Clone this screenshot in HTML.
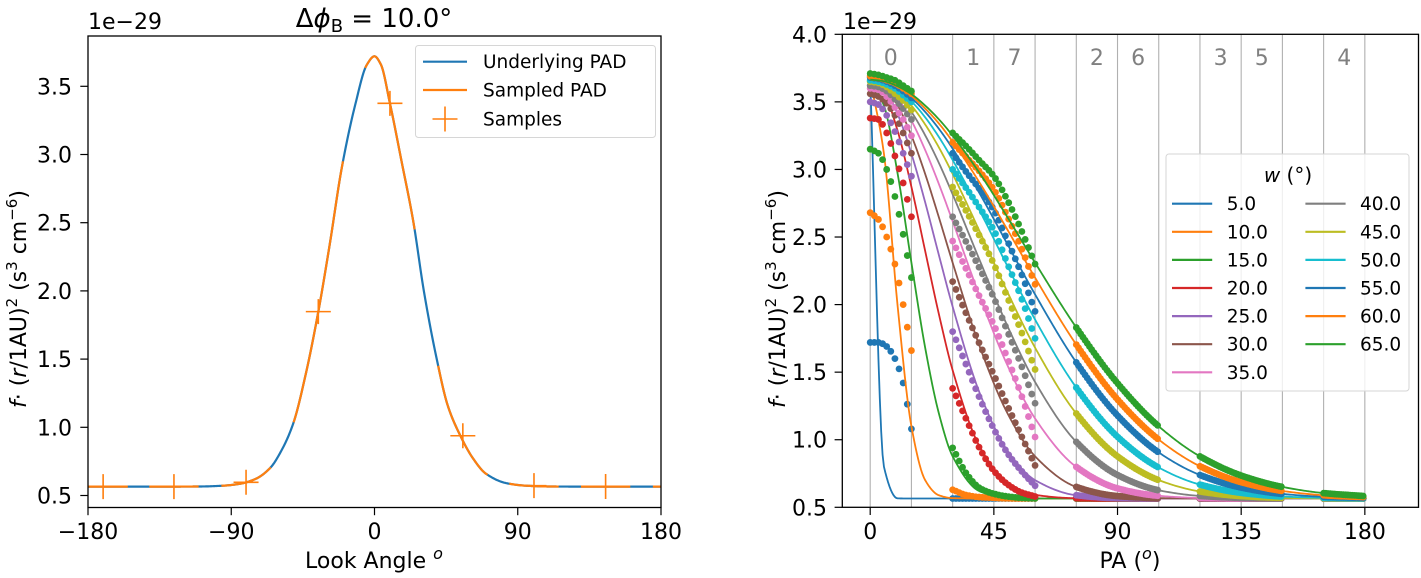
<!DOCTYPE html>
<html><head><meta charset="utf-8"><style>
html,body{margin:0;padding:0;background:#fff;}
svg{display:block;font-family:"DejaVu Sans","Liberation Sans",sans-serif;}
</style></head><body>
<svg id="fig" width="1421" height="578" viewBox="0 0 1421 578" xmlns="http://www.w3.org/2000/svg">
<rect width="1421" height="578" fill="#fff"/>
<g id="left"></g>
<g id="right"></g>
</svg>
<script>
// ---------- LEFT CHART DATA ----------
const padX = [-180,-140,-110,-95,-85,-75,-65.7,-58,-51,-43,-35.3,-28,-20.6,-12,-4.9,0,4,9.7,17,24.4,31,39,46,53.7,62,70,83,95,110,140,180];
const padY = [0.565,0.565,0.566,0.572,0.585,0.62,0.70,0.84,1.03,1.40,1.848,2.35,2.90,3.37,3.656,3.72,3.66,3.375,2.95,2.507,2.0,1.506,1.16,0.944,0.77,0.66,0.59,0.572,0.566,0.565,0.565];
const sampleX = [-170.5,-126,-80.7,-35.3,9.7,55.5,100.2,145.2];
const sampleY = [0.565,0.565,0.597,1.848,3.375,0.938,0.572,0.566];
const leftXTicks = [-180,-90,0,90,180];
const leftYTicks = [0.5,1.0,1.5,2.0,2.5,3.0,3.5];

// ---------- RIGHT CHART DATA ----------
const widths = [5,10,15,20,25,30,35,40,45,50,55,60,65];
const paGrid = [0,5,10,15,20,25,30,40,50,60,75,90,105,120,135,150,165,180];
const lineW5  = [3.665,0.80,0.566,0.565,0.565,0.565,0.565,0.565,0.565,0.565,0.565,0.565,0.565,0.565,0.565,0.565,0.565,0.565];
const lineW10 = [3.665,3.116,1.985,1.099,0.701,0.589,0.568,0.565,0.565,0.565,0.565,0.565,0.565,0.565,0.565,0.565,0.565,0.565];
const lineW15 = [3.665,3.473,2.967,2.310,1.681,1.194,0.877,0.617,0.570,0.565,0.565,0.565,0.565,0.565,0.565,0.565,0.565,0.565];
const lineW20 = [3.665,3.566,3.284,2.871,2.397,1.929,1.514,0.943,0.681,0.592,0.567,0.565,0.565,0.565,0.565,0.565,0.565,0.565];
const lineW25 = [3.665,3.598,3.408,3.116,2.757,2.366,1.985,1.337,0.918,0.701,0.589,0.568,0.565,0.565,0.565,0.565,0.565,0.565];
const lineW30 = [3.665,3.615,3.473,3.250,2.967,2.645,2.310,1.681,1.194,0.877,0.651,0.583,0.568,0.565,0.565,0.565,0.565,0.565];
const lineW35 = [3.665,3.629,3.526,3.361,3.144,2.892,2.617,2.053,1.548,1.157,0.799,0.640,0.585,0.569,0.565,0.565,0.565,0.565];
const lineW40 = [3.665,3.637,3.557,3.426,3.253,3.048,2.816,2.320,1.839,1.427,0.984,0.739,0.626,0.584,0.570,0.565,0.565,0.565];
const lineW45 = [3.665,3.643,3.578,3.473,3.333,3.163,2.967,2.534,2.090,1.681,1.194,0.877,0.701,0.617,0.583,0.570,0.566,0.565];
const lineW50 = [3.665,3.646,3.593,3.504,3.386,3.240,3.070,2.689,2.282,1.889,1.386,1.022,0.794,0.668,0.607,0.580,0.570,0.566];
const lineW55 = [3.665,3.649,3.603,3.528,3.426,3.301,3.154,2.816,2.445,2.075,1.572,1.179,0.906,0.739,0.646,0.599,0.578,0.570];
const lineW60 = [3.665,3.651,3.609,3.544,3.451,3.340,3.206,2.896,2.552,2.199,1.704,1.298,1.001,0.804,0.686,0.621,0.589,0.575];
const lineW65 = [3.665,3.653,3.615,3.557,3.473,3.371,3.250,2.967,2.645,2.310,1.830,1.418,1.099,0.877,0.735,0.651,0.605,0.583];
const lineSeries = [lineW5,lineW10,lineW15,lineW20,lineW25,lineW30,lineW35,lineW40,lineW45,lineW50,lineW55,lineW60,lineW65];
const dotPA0 = [0,3,6,9,12,15];
const dots0 = [
 [1.72,1.72,1.69,1.6,1.42,1.08],[2.68,2.63,2.5,2.3,2.0,1.66],[3.15,3.12,3.0,2.8,2.52,2.2],
 [3.38,3.37,3.27,3.1,2.9,2.65],[3.5,3.48,3.4,3.28,3.12,2.95],[3.56,3.54,3.49,3.4,3.27,3.12],
 [3.6,3.59,3.54,3.46,3.37,3.25],[3.62,3.61,3.58,3.52,3.45,3.37],[3.65,3.64,3.61,3.56,3.51,3.44],
 [3.66,3.65,3.63,3.6,3.55,3.5],[3.68,3.67,3.65,3.62,3.58,3.53],[3.69,3.68,3.66,3.64,3.6,3.56],
 [3.71,3.7,3.68,3.66,3.62,3.58]];
const dotPA1 = [30,35,40,45,50,55,60];
const dots1 = [
 [0.565,0.565,0.565,0.565,0.565,0.565,0.565],[0.63,0.59,0.575,0.57,0.566,0.565,0.565],
 [0.94,0.75,0.64,0.6,0.58,0.57,0.566],[1.38,1.15,0.93,0.77,0.67,0.61,0.58],
 [1.8,1.55,1.3,1.08,0.9,0.77,0.66],[2.17,1.93,1.7,1.48,1.25,1.03,0.81],
 [2.47,2.26,2.05,1.85,1.6,1.33,1.02],[2.65,2.46,2.26,2.05,1.8,1.55,1.27],
 [2.87,2.69,2.5,2.3,2.05,1.8,1.52],[3.0,2.86,2.71,2.55,2.3,2.05,1.75],
 [3.12,2.98,2.85,2.7,2.47,2.23,1.95],[3.2,3.09,2.98,2.85,2.65,2.42,2.15],
 [3.27,3.17,3.06,2.95,2.77,2.55,2.3]];
const binEdges = [0,15,30,45,60,75,90,105,120,135,150,165,180];
const binLabels = ["0","","1","7","","2","6","","3","5","","4"];
const rightXTicks = [0,45,90,135,180];
const rightYTicks = [0.5,1.0,1.5,2.0,2.5,3.0,3.5,4.0];
const colors = ["#1f77b4","#ff7f0e","#2ca02c","#d62728","#9467bd","#8c564b","#e377c2","#7f7f7f","#bcbd22","#17becf","#1f77b4","#ff7f0e","#2ca02c"];

const NS="http://www.w3.org/2000/svg";
function mk(parent,tag,attrs,text){const e=document.createElementNS(NS,tag);for(const k in attrs)e.setAttribute(k,attrs[k]);if(text!==undefined)e.textContent=text;parent.appendChild(e);return e;}
function mono(xs,ys){
  const n=xs.length,d=[],m=new Array(n);
  for(let i=0;i<n-1;i++)d.push((ys[i+1]-ys[i])/(xs[i+1]-xs[i]));
  m[0]=d[0];m[n-1]=d[n-2];
  for(let i=1;i<n-1;i++){ if(d[i-1]*d[i]<=0)m[i]=0; else {const w1=2*(xs[i+1]-xs[i])+(xs[i]-xs[i-1]),w2=(xs[i+1]-xs[i])+2*(xs[i]-xs[i-1]);m[i]=(w1+w2)/(w1/d[i-1]+w2/d[i]);} }
  return function(x){
    if(x<=xs[0])return ys[0]; if(x>=xs[n-1])return ys[n-1];
    let i=0;while(x>xs[i+1])i++;
    const h=xs[i+1]-xs[i],t=(x-xs[i])/h,t2=t*t,t3=t2*t;
    return (2*t3-3*t2+1)*ys[i]+(t3-2*t2+t)*h*m[i]+(-2*t3+3*t2)*ys[i+1]+(t3-t2)*h*m[i+1];
  };
}
const fmt=v=>(v<0?"\u2212":"")+Math.abs(v);

// ================= LEFT =================
(function(){
  const g=document.getElementById('left');
  const X0=88,X1=661,Y0=36,Y1=507.5;
  const xs=d=>X0+(d+180)*(X1-X0)/360;
  const ys=v=>495.5-(v-0.5)*136.4;
  const f=mono(padX,padY);
  function path(a,b){let s="";for(let d=a;d<=b+1e-9;d+=0.5){s+=(s?"L":"M")+xs(d).toFixed(2)+","+ys(f(d)).toFixed(2);}return s;}
  const cp=mk(g,'clipPath',{id:'clipL'});mk(cp,'rect',{x:X0,y:Y0,width:X1-X0,height:Y1-Y0});
  const under=mk(g,'path',{d:path(-180,180),fill:'none',stroke:'#1f77b4','stroke-width':2.2,'clip-path':'url(#clipL)'});
  
  
  const hw=15.5;
  const segs=sampleX.concat([sampleX[sampleX.length-1]+45.2]);
  segs.forEach((c,i)=>{
    const a=Math.max(-180,c-hw),b=Math.min(180,c+hw);
    if(a>=b)return;
    const p=mk(g,'path',{d:path(a,b),fill:'none',stroke:'#ff7f0e','stroke-width':2.2,'clip-path':'url(#clipL)'});
    
    
  });
  // first segment wraps at -180
  sampleX.forEach((sx,i)=>{
    const cx=xs(sx),cy=ys(sampleY[i]);
    const m=mk(g,'path',{d:`M${cx-12.5},${cy}H${cx+12.5}M${cx},${cy-12.5}V${cy+12.5}`,stroke:'#ff7f0e','stroke-width':1.6,fill:'none'});
    
    
  });
  const fr=mk(g,'rect',{x:X0,y:Y0,width:X1-X0,height:Y1-Y0,fill:'none',stroke:'#000','stroke-width':1.3});
  
  
  leftXTicks.forEach(t=>{
    const x=xs(t);mk(g,'line',{x1:x,x2:x,y1:Y1,y2:Y1+7.7,stroke:'#000','stroke-width':1.2});
    const tx=mk(g,'text',{x:x,y:539,'text-anchor':'middle','font-size':22},fmt(t));
    
    
  });
  leftYTicks.forEach(t=>{
    const y=ys(t);mk(g,'line',{x1:X0-7.7,x2:X0,y1:y,y2:y,stroke:'#000','stroke-width':1.2});
    const tx=mk(g,'text',{x:72,y:y+8,'text-anchor':'end','font-size':22},t.toFixed(1));
    
    
  });
  // legend
  const lg=mk(g,'g',{});
  
  
  mk(lg,'rect',{x:415.5,y:45.5,width:240,height:92,rx:3,fill:'#fff','fill-opacity':0.8,stroke:'#d6d6d6','stroke-width':1});
  mk(lg,'line',{x1:423,x2:467,y1:61.7,y2:61.7,stroke:'#1f77b4','stroke-width':2.2});
  mk(lg,'line',{x1:423,x2:467,y1:90,y2:90,stroke:'#ff7f0e','stroke-width':2.2});
  mk(lg,'path',{d:'M432.5,119H457.5M445,106.5V131.5',stroke:'#ff7f0e','stroke-width':1.6});
  const l1=mk(lg,'text',{x:483,y:68,'font-size':18.5},'Underlying PAD');
  const l2=mk(lg,'text',{x:483,y:96.5,'font-size':18.5},'Sampled PAD');
  const l3=mk(lg,'text',{x:483,y:125.5,'font-size':18.5},'Samples');
  // texts
  const off=mk(g,'text',{x:88,y:29,'font-size':22},'1e\u221229');
  const ti=mk(g,'text',{x:374,y:27,'text-anchor':'middle','font-size':26});
  
  
  ti.innerHTML='\u0394<tspan font-style="italic">\u03d5</tspan><tspan font-size="18" dy="5">B</tspan><tspan dy="-5"> = 10.0\u00b0</tspan>';
  const xl=mk(g,'text',{x:374,y:568,'text-anchor':'middle','font-size':22});
  
  
  xl.innerHTML='Look Angle <tspan font-style="italic" font-size="16" dy="-9">o</tspan>';
  const yl=mk(g,'text',{x:0,y:0,'text-anchor':'middle','font-size':22,transform:'translate(26,299) rotate(-90)'});
  
  
  yl.innerHTML='<tspan font-style="italic">f</tspan>\u00b7 (<tspan font-style="italic">r</tspan>/1AU)<tspan font-size="15" dy="-9">2</tspan><tspan dy="9"> (s</tspan><tspan font-size="15" dy="-9">3</tspan><tspan dy="9"> cm</tspan><tspan font-size="15" dy="-9">\u22126</tspan><tspan dy="9">)</tspan>';
})();

// ================= RIGHT =================
(function(){
  const g=document.getElementById('right');
  const X0=842.3,X1=1418.5,Y0=34.3,Y1=507.3;
  const xs=p=>870.2+p*2.748;
  const ys=v=>507.3-(v-0.5)*135.14;
  const cp=mk(g,'clipPath',{id:'clipR'});mk(cp,'rect',{x:X0,y:Y0,width:X1-X0,height:Y1-Y0});
  binEdges.forEach(e=>{
    const l=mk(g,'line',{x1:xs(e),x2:xs(e),y1:Y0,y2:Y1,stroke:'#b0b0b0','stroke-width':1.1});
    
    
  });
  binLabels.forEach((lab,i)=>{
    if(!lab)return;
    const t=mk(g,'text',{x:xs((binEdges[i]+binEdges[i+1])/2),y:65,'text-anchor':'middle','font-size':22,fill:'#808080'},lab);
    
    
  });
  const plot=mk(g,'g',{'clip-path':'url(#clipR)'});
  lineSeries.forEach((arr,si)=>{
    const f=mono(paGrid,arr);const c=colors[si];
    let s="";for(let p=0;p<=180;p+=0.5){s+=(s?"L":"M")+xs(p).toFixed(2)+","+ys(f(p)).toFixed(2);}
    const ln=mk(plot,'path',{d:s,fill:'none',stroke:c,'stroke-width':1.8});
    
    
    const f0=mono(dotPA0,dots0[si]),f1=mono(dotPA1,dots1[si]);
    const pts=[];
    for(let p=0;p<=15.01;p+=1.5)pts.push([p,f0(p)]);
    for(let p=30;p<=60.01;p+=1.2)pts.push([p,f1(p)]);
    [[75,105],[120,150],[165,180]].forEach(b=>{for(let p=b[0];p<=b[1]+0.01;p+=0.8)pts.push([p,f(p)]);});
    const dg=mk(plot,'g',{fill:c});
    
    
    pts.forEach(q=>{mk(dg,'circle',{cx:xs(q[0]).toFixed(2),cy:ys(q[1]).toFixed(2),r:3.4});});
  });
  const fr=mk(g,'rect',{x:X0,y:Y0,width:X1-X0,height:Y1-Y0,fill:'none',stroke:'#000','stroke-width':1.3});
  
  
  rightXTicks.forEach(t=>{
    const x=xs(t);mk(g,'line',{x1:x,x2:x,y1:Y1,y2:Y1+7.7,stroke:'#000','stroke-width':1.2});
    const tx=mk(g,'text',{x:x,y:539,'text-anchor':'middle','font-size':22},String(t));
    
    
  });
  rightYTicks.forEach(t=>{
    const y=ys(t);mk(g,'line',{x1:X0-7.7,x2:X0,y1:y,y2:y,stroke:'#000','stroke-width':1.2});
    const tx=mk(g,'text',{x:827,y:y+8,'text-anchor':'end','font-size':22},t.toFixed(1));
    
    
  });
  const off=mk(g,'text',{x:843,y:29,'font-size':22},'1e\u221229');
  const xl=mk(g,'text',{x:1130,y:568,'text-anchor':'middle','font-size':22});
  
  
  xl.innerHTML='PA (<tspan font-style="italic" font-size="16" dy="-9">o</tspan><tspan dy="9">)</tspan>';
  const yl=mk(g,'text',{x:0,y:0,'text-anchor':'middle','font-size':22,transform:'translate(785,299) rotate(-90)'});
  
  
  yl.innerHTML='<tspan font-style="italic">f</tspan>\u00b7 (<tspan font-style="italic">r</tspan>/1AU)<tspan font-size="15" dy="-9">2</tspan><tspan dy="9"> (s</tspan><tspan font-size="15" dy="-9">3</tspan><tspan dy="9"> cm</tspan><tspan font-size="15" dy="-9">\u22126</tspan><tspan dy="9">)</tspan>';
  // legend
  const lg=mk(g,'g',{});
  
  
  mk(lg,'rect',{x:1166,y:154,width:243,height:237,rx:3,fill:'#fff','fill-opacity':0.8,stroke:'#d6d6d6','stroke-width':1});
  const lt=mk(lg,'text',{x:1288,y:182,'text-anchor':'middle','font-size':20});
  
  
  lt.innerHTML='<tspan font-style="italic">w</tspan> (\u00b0)';
  widths.forEach((w,i)=>{
    const col=i<7?0:1,row=i<7?i:i-7;
    const y=203.7+row*28.1;
    const lx=col?1305.4:1172,tx=col?1360:1226.7;
    mk(lg,'line',{x1:lx,x2:lx+40.2,y1:y,y2:y,stroke:colors[i],'stroke-width':2.2});
    const t=mk(lg,'text',{x:tx,y:y+6.5,'font-size':18.5},w.toFixed(1));
    
    
  });
})();
</script>
</body></html>
